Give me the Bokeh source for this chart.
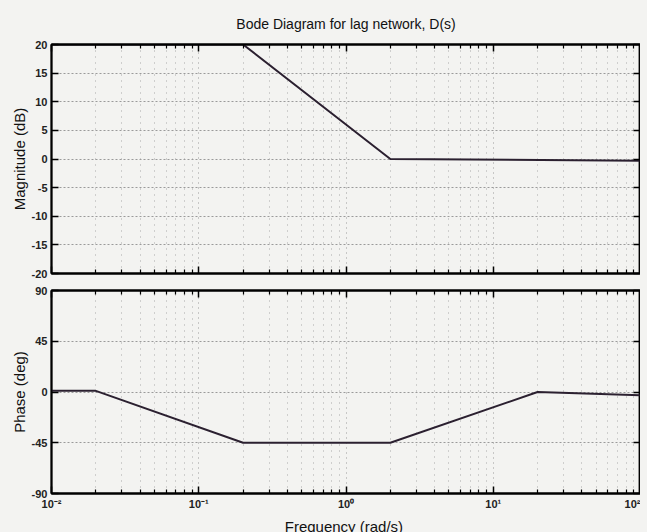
from bokeh.plotting import figure
from bokeh.models import FixedTicker, LogAxis, LinearAxis, Range1d, Title, CustomJSTickFormatter
from bokeh.layouts import column
from bokeh.embed import file_html
from bokeh.resources import INLINE

# ---- data ----
mag_freq = [0.01, 0.2, 2.0, 100.0]
mag_db = [20.0, 20.0, 0.0, -0.3]
phase_freq = [0.01, 0.02, 0.2, 2.0, 20.0, 100.0]
phase_deg = [1.0, 1.0, -45.0, -45.0, 0.0, -3.0]

x_decades = [0.01, 0.1, 1, 10, 100]
x_minor = [m * d for d in [0.01, 0.1, 1, 10] for m in range(2, 10)]
mag_ticks = [-20, -15, -10, -5, 0, 5, 10, 15, 20]
phase_ticks = [-90, -45, 0, 45, 90]
x_tick_labels = ["10\u207b\u00b2", "10\u207b\u00b9", "10\u2070", "10\u00b9", "10\u00b2"]

BG = "#f3f3f1"
LINE = "#2b2030"
FONT = "Liberation Sans"

xfmt = CustomJSTickFormatter(args=dict(labels=x_tick_labels), code="""
const i = Math.round(Math.log10(tick)) + 2;
return labels[i];
""")


def style_axis(ax, show_labels, minor=True):
    ax.axis_line_color = "black"
    ax.axis_line_width = 1.8
    ax.major_tick_in = 7
    ax.major_tick_out = 0
    ax.major_tick_line_color = "black"
    ax.major_tick_line_width = 1.5
    if minor:
        ax.minor_tick_in = 4
        ax.minor_tick_out = 0
        ax.minor_tick_line_color = "black"
        ax.minor_tick_line_width = 1.2
    else:
        ax.minor_tick_line_color = None
    ax.major_label_text_font = FONT
    ax.major_label_text_font_style = "bold"
    ax.major_label_text_color = "#222222"
    ax.axis_label_standoff = 0
    if show_labels:
        ax.major_label_text_font_size = "11px"
        ax.major_label_standoff = 4
    else:
        ax.major_label_text_font_size = "1px"
        ax.major_label_text_alpha = 0
        ax.major_label_standoff = 0


def make_fig(frame_h, yticks, yrange, ylabel, show_x_labels, mb_top, mb_bottom):
    p = figure(frame_width=589, frame_height=frame_h, x_axis_type="log", output_backend="svg",
               toolbar_location=None, x_range=Range1d(0.01, 100),
               y_range=Range1d(*yrange), min_border_left=51, min_border_right=0,
               min_border_top=mb_top, min_border_bottom=mb_bottom)
    p.background_fill_color = BG
    p.border_fill_color = BG
    p.outline_line_color = "black"
    p.outline_line_width = 1.8

    xt = FixedTicker(ticks=x_decades, minor_ticks=x_minor)
    yt = FixedTicker(ticks=yticks)

    xa = p.xaxis[0]
    xa.ticker = xt
    xa.formatter = xfmt
    style_axis(xa, show_x_labels)
    ya = p.yaxis[0]
    ya.ticker = yt
    ya.major_label_overrides = {v: str(v) for v in yticks}
    style_axis(ya, True, minor=False)
    ya.axis_label = ylabel
    ya.axis_label_text_font = FONT
    ya.axis_label_text_font_style = "normal"
    ya.axis_label_text_font_size = "15px"
    ya.axis_label_text_color = "#111111"
    ya.axis_label_standoff = 1

    top = LogAxis(ticker=xt, formatter=xfmt)
    style_axis(top, False)
    p.add_layout(top, "above")
    right = LinearAxis(ticker=yt)
    style_axis(right, False, minor=False)
    p.add_layout(right, "right")

    p.xgrid.ticker = xt
    p.xgrid.grid_line_color = "#9a9a9a"
    p.xgrid.grid_line_dash = "1 4"
    p.xgrid.minor_grid_line_color = "#a8a8a8"
    p.xgrid.minor_grid_line_dash = "1 5"
    p.ygrid.ticker = yt
    p.ygrid.grid_line_color = "#9a9a9a"
    p.ygrid.grid_line_dash = "2 2"
    return p, xa


p1, xa1 = make_fig(229, mag_ticks, (-20, 20), "Magnitude (dB)", False, 39, 9)
t = Title(text="Bode Diagram for lag network, D(s)", align="center",
          text_font=FONT, text_font_size="14px", text_font_style="normal",
          text_color="#111111", standoff=26)
p1.add_layout(t, "above")
p1.line(mag_freq, mag_db, line_color=LINE, line_width=2)

p2, xa2 = make_fig(203, phase_ticks, (-90, 90), "Phase (deg)", True, 8, 40)
p2.line(phase_freq, phase_deg, line_color=LINE, line_width=2)
xa2.axis_label = "Frequency  (rad/s)"
xa2.axis_label_text_font = FONT
xa2.axis_label_text_font_style = "normal"
xa2.axis_label_text_font_size = "15px"
xa2.axis_label_text_color = "#111111"
xa2.axis_label_standoff = 5

layout = column(p1, p2, spacing=0)

html = file_html(layout, INLINE)
html = html.replace("<body>", "<body style=\"background-color:%s; overflow:hidden\">" % BG)
open("out.html", "w").write(html)
